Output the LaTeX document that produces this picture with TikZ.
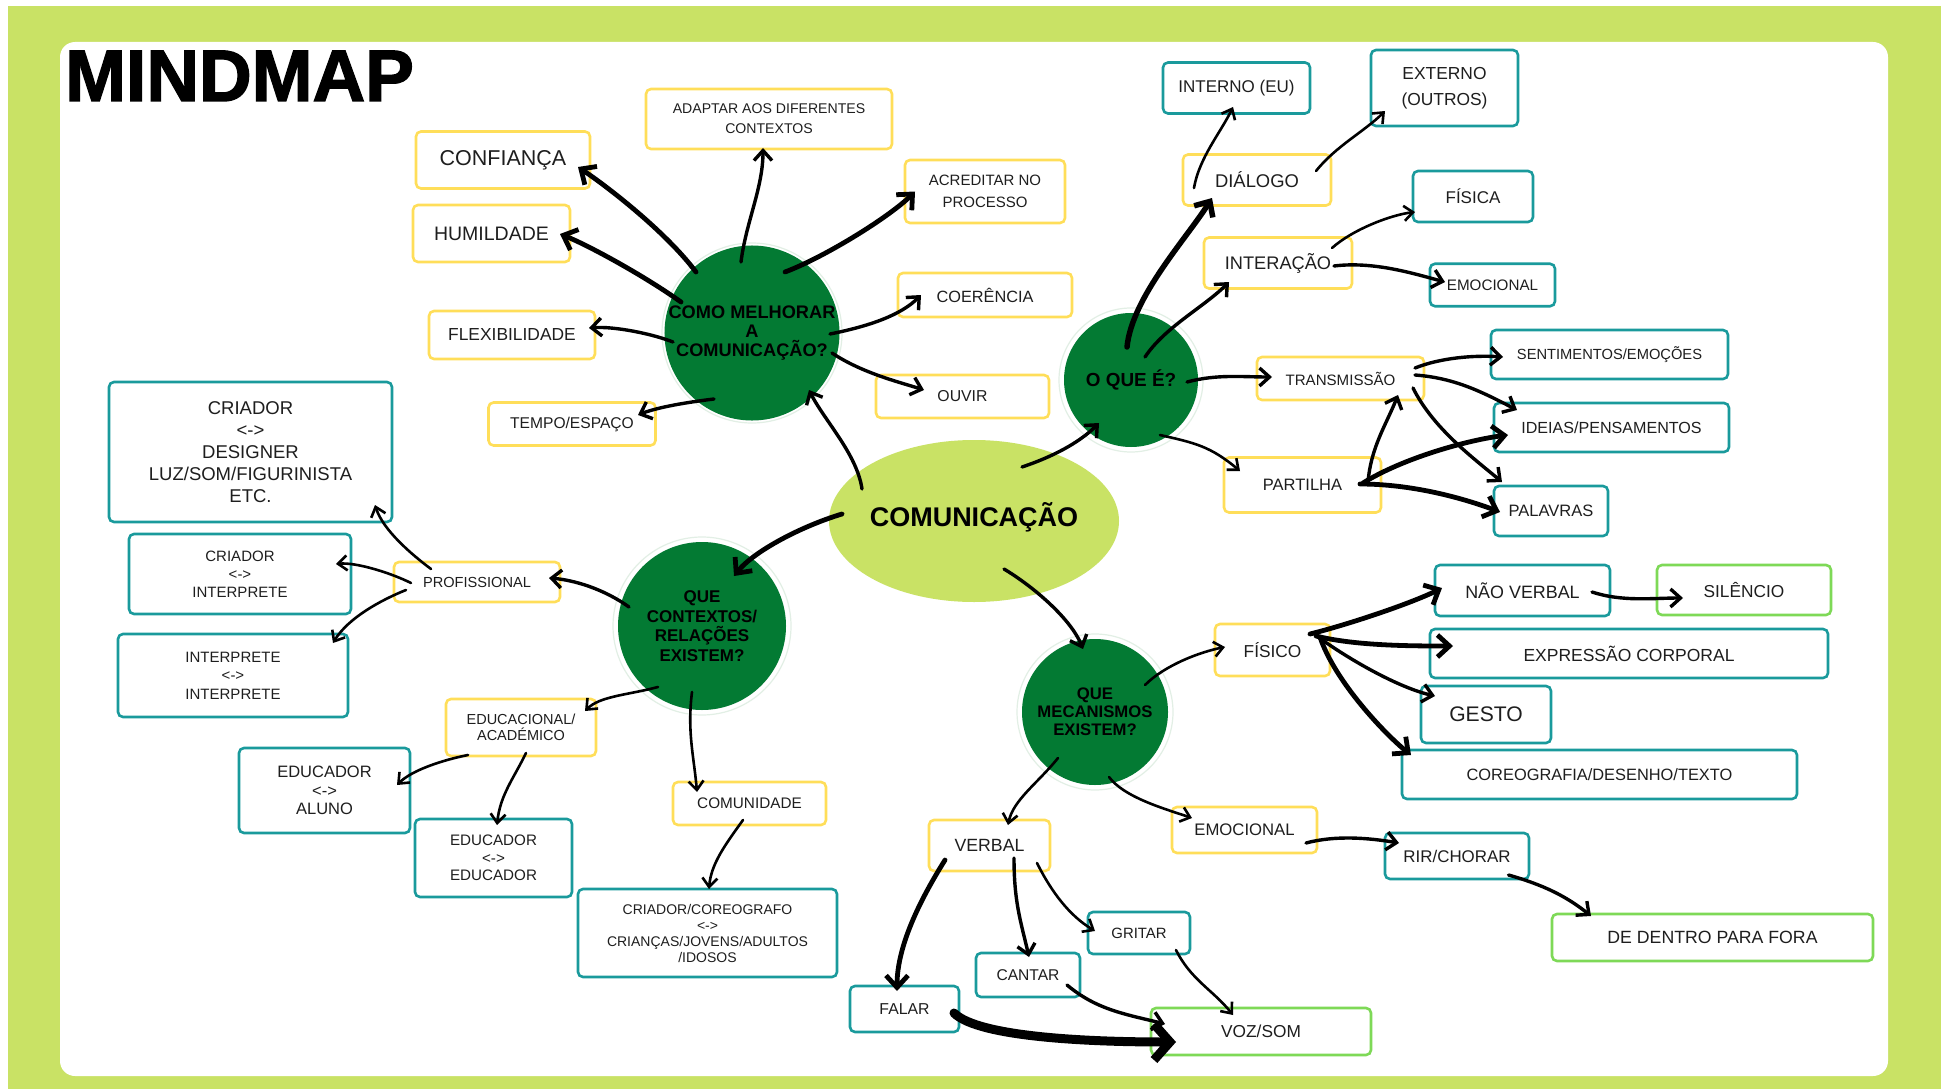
\documentclass[tikz,border=0pt]{standalone}
\usepackage{fontspec}
\setmainfont{Liberation Sans}
\newfontfamily\titlefont{Liberation Sans}[BoldFeatures={FakeBold=1.8}]
\usetikzlibrary{arrows.meta,calc,shapes.geometric}
\definecolor{lime}{HTML}{C9E265}
\definecolor{dgreen}{HTML}{037A33}
\definecolor{ybord}{HTML}{FFDE59}
\definecolor{tbord}{HTML}{1A9A9C}
\definecolor{gbord}{HTML}{7ED957}
\definecolor{txt}{HTML}{1E1E1E}
\definecolor{ringc}{HTML}{E2EFE5}
\newcommand\myfz[2]{\fontsize{#1}{#2}\selectfont}
\newcommand\mybox[8]{\node[#1, minimum width=#4pt, minimum height=#5pt, font=\myfz{#6}{#7}] (#2) at (#3) {#8};}
\tikzset{
  box/.style={rounded corners=5pt, line width=2.6pt, fill=white, inner sep=0pt, align=center, text=txt},
  ybox/.style={box, draw=ybord},
  tbox/.style={box, draw=tbord},
  gbox/.style={box, draw=gbord},
  circ/.style={circle, fill=dgreen, inner sep=0pt, align=center, text=black},
  ring/.style={draw=ringc, line width=1.2pt},
  ar1/.style={line width=2.6pt, line cap=round, -{Straight Barb[length=9pt,width=15pt]}},
  ar2/.style={line width=3.4pt, line cap=round, -{Straight Barb[length=10pt,width=18pt]}},
  ar3/.style={line width=4.8pt, line cap=round, -{Straight Barb[length=12pt,width=22pt]}},
  ar4/.style={line width=9pt, line cap=round, -{Straight Barb[length=16pt,width=36pt]}},
}
\begin{document}
\begin{tikzpicture}[x=1pt,y=-1pt]
\useasboundingbox (0,0) rectangle (1941,1089);
\fill[white] (0,0) rectangle (1941,1089);
\fill[lime] (8,6) rectangle (1941,1089);
\fill[white, rounded corners=15pt] (60,42) rectangle (1888,1076);

\node[anchor=base west, inner sep=0pt, font=\titlefont\bfseries\myfz{73}{73}] (title) at (65,101) {MINDMAP};

% central ellipse
\node[ellipse, fill=lime, minimum width=290pt, minimum height=162pt, inner sep=0pt] (com) at (974,521) {};
\node[font=\bfseries\myfz{27}{30}, inner sep=0pt] (comt) at (974,517) {COMUNICAÇÃO};

% circles
\node[circ, minimum size=170pt, font=\bfseries\myfz{18.2}{19}] (cm) at (752,333) {COMO MELHORAR\\A\\COMUNICAÇÃO?};
\node[circ, minimum size=134pt, font=\bfseries\myfz{18.9}{20}] (oq) at (1131,380) {O QUE É?};
\node[circ, minimum size=168pt, font=\bfseries\myfz{17}{19.5}] (qc) at (702,626) {QUE\\CONTEXTOS/\\RELAÇÕES\\EXISTEM?};
\node[circ, minimum size=146pt, font=\bfseries\myfz{16.7}{18}] (qm) at (1095,712) {QUE\\MECANISMOS\\EXISTEM?};
\draw[ring] (cm) circle (90pt);
\draw[ring] (oq) circle (72pt);
\draw[ring] (qc) circle (89pt);
\draw[ring] (qm) circle (78pt);

% yellow boxes
\mybox{ybox}{conf}{503,160}{174}{57}{21.5}{25}{CONFIANÇA}
\mybox{ybox}{hum}{491.5,233.5}{157}{57}{19.5}{23}{HUMILDADE}
\mybox{ybox}{flex}{512,335}{166}{48}{17.4}{21}{FLEXIBILIDADE}
\mybox{ybox}{tempo}{572,424}{167}{43}{15.6}{19}{TEMPO/ESPAÇO}
\mybox{ybox}{adapt}{769,119}{246}{60}{14.1}{20}{ADAPTAR AOS DIFERENTES\\CONTEXTOS}
\mybox{ybox}{acred}{985,191.5}{160}{63}{15}{21.5}{ACREDITAR NO\\PROCESSO}
\mybox{ybox}{coer}{985,295}{174}{44}{16.3}{20}{COERÊNCIA}
\mybox{ybox}{ouvir}{962.5,396.5}{173}{43}{15.8}{19}{OUVIR}
\mybox{ybox}{dial}{1257,180}{148}{51}{18.4}{22}{DIÁLOGO}
\mybox{ybox}{inter}{1278,263}{148}{51}{18.2}{22}{INTERAÇÃO}
\mybox{ybox}{trans}{1340.5,378.5}{167}{43}{15.1}{18}{TRANSMISSÃO}
\mybox{ybox}{part}{1302.5,485}{157}{55}{16.5}{20}{PARTILHA}
\mybox{ybox}{prof}{477,582}{166}{40}{14.6}{18}{PROFISSIONAL}
\mybox{ybox}{edu}{521,727.5}{150}{57}{14.5}{16.5}{EDUCACIONAL/\\ACADÉMICO}
\mybox{ybox}{comu}{749.5,803.5}{153}{43}{15.3}{18}{COMUNIDADE}
\mybox{ybox}{fisico}{1272.5,650}{115}{52}{17.3}{21}{FÍSICO}
\mybox{ybox}{emom}{1244.5,830}{145}{46}{16.7}{20}{EMOCIONAL}
\mybox{ybox}{verbal}{989.5,845.5}{121}{51}{17.7}{21}{VERBAL}

% teal boxes
\mybox{tbox}{intern}{1236.5,88}{147}{51}{17}{20}{INTERNO (EU)}
\mybox{tbox}{extern}{1444.5,88}{147}{76}{17.4}{26}{EXTERNO\\(OUTROS)}
\mybox{tbox}{fisica}{1473,196.5}{120}{51}{17}{20}{FÍSICA}
\mybox{tbox}{emoi}{1492.5,285}{125}{42.5}{15.2}{18}{EMOCIONAL}
\mybox{tbox}{sent}{1609.5,354.5}{237}{49}{14.7}{18}{SENTIMENTOS/EMOÇÕES}
\mybox{tbox}{ideias}{1611.5,427.5}{235}{49}{16.1}{19}{IDEIAS/PENSAMENTOS}
\mybox{tbox}{pal}{1551,511}{114}{50}{16.5}{20}{PALAVRAS}
\mybox{tbox}{crd}{250.5,452}{283}{140}{18.5}{22}{CRIADOR\\<->\\DESIGNER\\LUZ/SOM/FIGURINISTA\\ETC.}
\mybox{tbox}{ci}{240,574}{222}{80}{15}{18}{CRIADOR\\<->\\INTERPRETE}
\mybox{tbox}{ii}{233,675.5}{230}{83}{15}{18.5}{INTERPRETE\\<->\\INTERPRETE}
\mybox{tbox}{ea}{324.5,790.5}{171}{85}{16.5}{18.5}{EDUCADOR\\<->\\ALUNO}
\mybox{tbox}{ee}{493.5,858}{157}{78}{15.2}{17.5}{EDUCADOR\\<->\\EDUCADOR}
\mybox{tbox}{cc}{707.5,933}{259}{88}{14}{16}{CRIADOR/COREOGRAFO\\<->\\CRIANÇAS/JOVENS/ADULTOS\\/IDOSOS}
\mybox{tbox}{nv}{1522.5,590.5}{175}{51}{17.9}{21}{NÃO VERBAL}
\mybox{tbox}{exp}{1629,653.5}{398}{49}{17.5}{21}{EXPRESSÃO CORPORAL}
\mybox{tbox}{gesto}{1486,714.5}{130}{57}{21.1}{25}{GESTO}
\mybox{tbox}{coreo}{1599.5,774.5}{395}{49}{16.4}{20}{COREOGRAFIA/DESENHO/TEXTO}
\mybox{tbox}{rir}{1457,856}{144}{46}{16.9}{20}{RIR/CHORAR}
\mybox{tbox}{gritar}{1139,933}{102}{42}{14.9}{18}{GRITAR}
\mybox{tbox}{cantar}{1028,975}{104}{44}{15.6}{19}{CANTAR}
\mybox{tbox}{falar}{904.5,1009}{109}{46}{15.8}{19}{FALAR}

% light green boxes
\mybox{gbox}{sil}{1744,590}{174}{50}{17.3}{21}{SILÊNCIO}
\mybox{gbox}{dd}{1712.5,937.5}{321}{47}{17.7}{21}{DE DENTRO PARA FORA}
\mybox{gbox}{voz}{1261,1031.5}{220}{47}{17.3}{21}{VOZ/SOM}

% arrows from COMO MELHORAR
\draw[ar3] ($(cm)+(-56,-61)$) .. controls +(-30,-40) and +(30,20) .. ($(conf)+(75,7)$);
\draw[ar3] ($(cm)+(-71,-31)$) .. controls +(-35,-25) and +(30,12) .. ($(hum)+(68.5,0.5)$);
\draw[ar2] ($(cm)+(-79,9)$) .. controls +(-20,-8) and +(25,-2) .. ($(flex)+(77,-7)$);
\draw[ar2] ($(cm)+(-38,66)$) .. controls +(-25,3) and +(20,-8) .. ($(tempo)+(66,-9)$);
\draw[ar2] ($(cm)+(-11,-71)$) .. controls +(5,-40) and +(0,40) .. ($(adapt)+(-6,29)$);
\draw[ar3] ($(cm)+(33,-61)$) .. controls +(40,-15) and +(-25,25) .. ($(acred)+(-70,0)$);
\draw[ar2] ($(cm)+(78,1)$) .. controls +(40,-8) and +(-20,20) .. ($(coer)+(-64,0)$);
\draw[ar2] ($(cm)+(80,20)$) .. controls +(30,20) and +(-25,-8) .. ($(ouvir)+(-38.5,-6.5)$);

% arrows from COMUNICACAO
\draw[ar2] ($(com)+(-112,-32)$) .. controls +(-5,-35) and +(15,30) .. ($(cm)+(57,57)$);
\draw[ar2] ($(com)+(48,-54)$) .. controls +(30,-10) and +(-20,20) .. ($(oq)+(-32,43)$);
\draw[ar3] ($(com)+(-132,-7)$) .. controls +(-40,12) and +(20,-25) .. ($(qc)+(32,-50)$);
\draw[ar2] ($(com)+(30,48)$) .. controls +(30,18) and +(-12,-30) .. ($(qm)+(-12,-63)$);

% arrows of O QUE E
\draw[ar3, line width=5.5pt] ($(oq)+(-4,-33)$) .. controls +(5,-50) and +(-25,40) .. ($(dial)+(-45,18)$);
\draw[ar1] ($(dial)+(-63,8)$) .. controls +(5,-30) and +(-12,25) .. ($(intern)+(-3.5,19)$);
\draw[ar1] ($(dial)+(59,-9)$) .. controls +(20,-25) and +(-20,20) .. ($(extern)+(-59.5,23)$);
\draw[ar2] ($(oq)+(14,-23)$) .. controls +(20,-30) and +(-25,25) .. ($(inter)+(-49,19)$);
\draw[ar1] ($(inter)+(54,-15)$) .. controls +(20,-18) and +(-25,3) .. ($(fisica)+(-58,15.5)$);
\draw[ar2] ($(inter)+(56,3)$) .. controls +(40,-5) and +(-30,-8) .. ($(emoi)+(-47.5,-3)$);
\draw[ar2] ($(oq)+(56,2)$) .. controls +(30,-8) and +(-30,0) .. ($(trans)+(-68.5,-1.5)$);
\draw[ar1] ($(oq)+(29,55)$) .. controls +(35,8) and +(-30,-25) .. ($(part)+(-62.5,-14)$);
\draw[ar2] ($(trans)+(74.5,-10.5)$) .. controls +(25,-10) and +(-30,-2) .. ($(sent)+(-106.5,2.5)$);
\draw[ar2] ($(trans)+(74.5,-3.5)$) .. controls +(40,3) and +(-35,-18) .. ($(ideias)+(-94.5,-17.5)$);
\draw[ar2] ($(trans)+(72.5,9.5)$) .. controls +(20,40) and +(-30,-25) .. ($(pal)+(-49,-29)$);
\draw[ar2] ($(part)+(65.5,-3)$) .. controls +(3,-35) and +(-12,30) .. ($(trans)+(57.5,16.5)$);
\draw[ar3] ($(part)+(60.5,-2)$) .. controls +(40,-25) and +(-40,5) .. ($(ideias)+(-103.5,7.5)$);
\draw[ar3] ($(part)+(57.5,-1)$) .. controls +(50,0) and +(-40,-15) .. ($(pal)+(-51,1)$);

% arrows of QUE CONTEXTOS
\draw[ar2] ($(qc)+(-73,-19)$) .. controls +(-25,-18) and +(25,2) .. ($(prof)+(72,-4)$);
\draw[ar1] ($(prof)+(-46,-13)$) .. controls +(-20,-15) and +(8,25) .. ($(crd)+(124.5,53)$);
\draw[ar1] ($(prof)+(-66,1)$) .. controls +(-20,-10) and +(20,-2) .. ($(ci)+(96,-10)$);
\draw[ar1] ($(prof)+(-71,8)$) .. controls +(-25,10) and +(15,-25) .. ($(ii)+(100,-32.5)$);
\draw[ar1] ($(qc)+(-44,61)$) .. controls +(-30,8) and +(15,-15) .. ($(edu)+(64,-16.5)$);
\draw[ar1] ($(qc)+(-10,66)$) .. controls +(-5,40) and +(-3,-35) .. ($(comu)+(-52.5,-11.5)$);
\draw[ar1] ($(edu)+(-53,27.5)$) .. controls +(-25,5) and +(15,-15) .. ($(ea)+(72.5,-5.5)$);
\draw[ar1] ($(edu)+(5,25.5)$) .. controls +(-12,25) and +(3,-30) .. ($(ee)+(3.5,-33)$);
\draw[ar1] ($(comu)+(-6.5,16.5)$) .. controls +(-18,25) and +(2,-25) .. ($(cc)+(1.5,-44)$);

% arrows of QUE MECANISMOS
\draw[ar1] ($(qm)+(50,-27)$) .. controls +(20,-20) and +(-25,5) .. ($(fisico)+(-47.5,-3)$);
\draw[ar1] ($(qm)+(-37,46)$) .. controls +(-20,25) and +(5,-25) .. ($(verbal)+(18.5,-20.5)$);
\draw[ar1] ($(qm)+(14,65)$) .. controls +(15,20) and +(-30,-10) .. ($(emom)+(-52.5,-12)$);
\draw[ar3] ($(fisico)+(37.5,-16)$) .. controls +(40,-10) and +(-30,15) .. ($(nv)+(-80.5,-2.5)$);
\draw[ar3] ($(fisico)+(43.5,-14)$) .. controls +(40,10) and +(-40,0) .. ($(exp)+(-176,-7.5)$);
\draw[ar2] ($(fisico)+(45.5,-13)$) .. controls +(35,25) and +(-35,-8) .. ($(gesto)+(-51,-18.5)$);
\draw[ar3] ($(fisico)+(47.5,-13)$) .. controls +(15,45) and +(-25,-20) .. ($(coreo)+(-188.5,-19.5)$);
\draw[ar2] ($(nv)+(69.5,1.5)$) .. controls +(30,10) and +(-30,0) .. ($(sil)+(-61,8)$);
\draw[ar2] ($(emom)+(61.5,13)$) .. controls +(30,-8) and +(-30,-5) .. ($(rir)+(-58,-13)$);
\draw[ar2] ($(rir)+(51.5,19)$) .. controls +(35,10) and +(-25,-20) .. ($(dd)+(-121.5,-21.5)$);
\draw[ar3] ($(verbal)+(-44.5,14.5)$) .. controls +(-25,40) and +(0,-45) .. ($(falar)+(-7.5,-18)$);
\draw[ar2] ($(verbal)+(24.5,12.5)$) .. controls +(0,45) and +(-8,-35) .. ($(cantar)+(1,-18)$);
\draw[ar1] ($(verbal)+(47.5,17.5)$) .. controls +(15,30) and +(-25,-15) .. ($(gritar)+(-44,-2)$);
\draw[ar2] ($(cantar)+(39,10)$) .. controls +(30,25) and +(-40,-10) .. ($(voz)+(-96,-7.5)$);
\draw[ar1] ($(gritar)+(37,17)$) .. controls +(15,30) and +(-20,-25) .. ($(voz)+(-28,-16.5)$);
\draw[ar4] ($(falar)+(49.5,4)$) .. controls +(25,25) and +(-80,0) .. ($(voz)+(-85,10.5)$);
\end{tikzpicture}
\end{document}
